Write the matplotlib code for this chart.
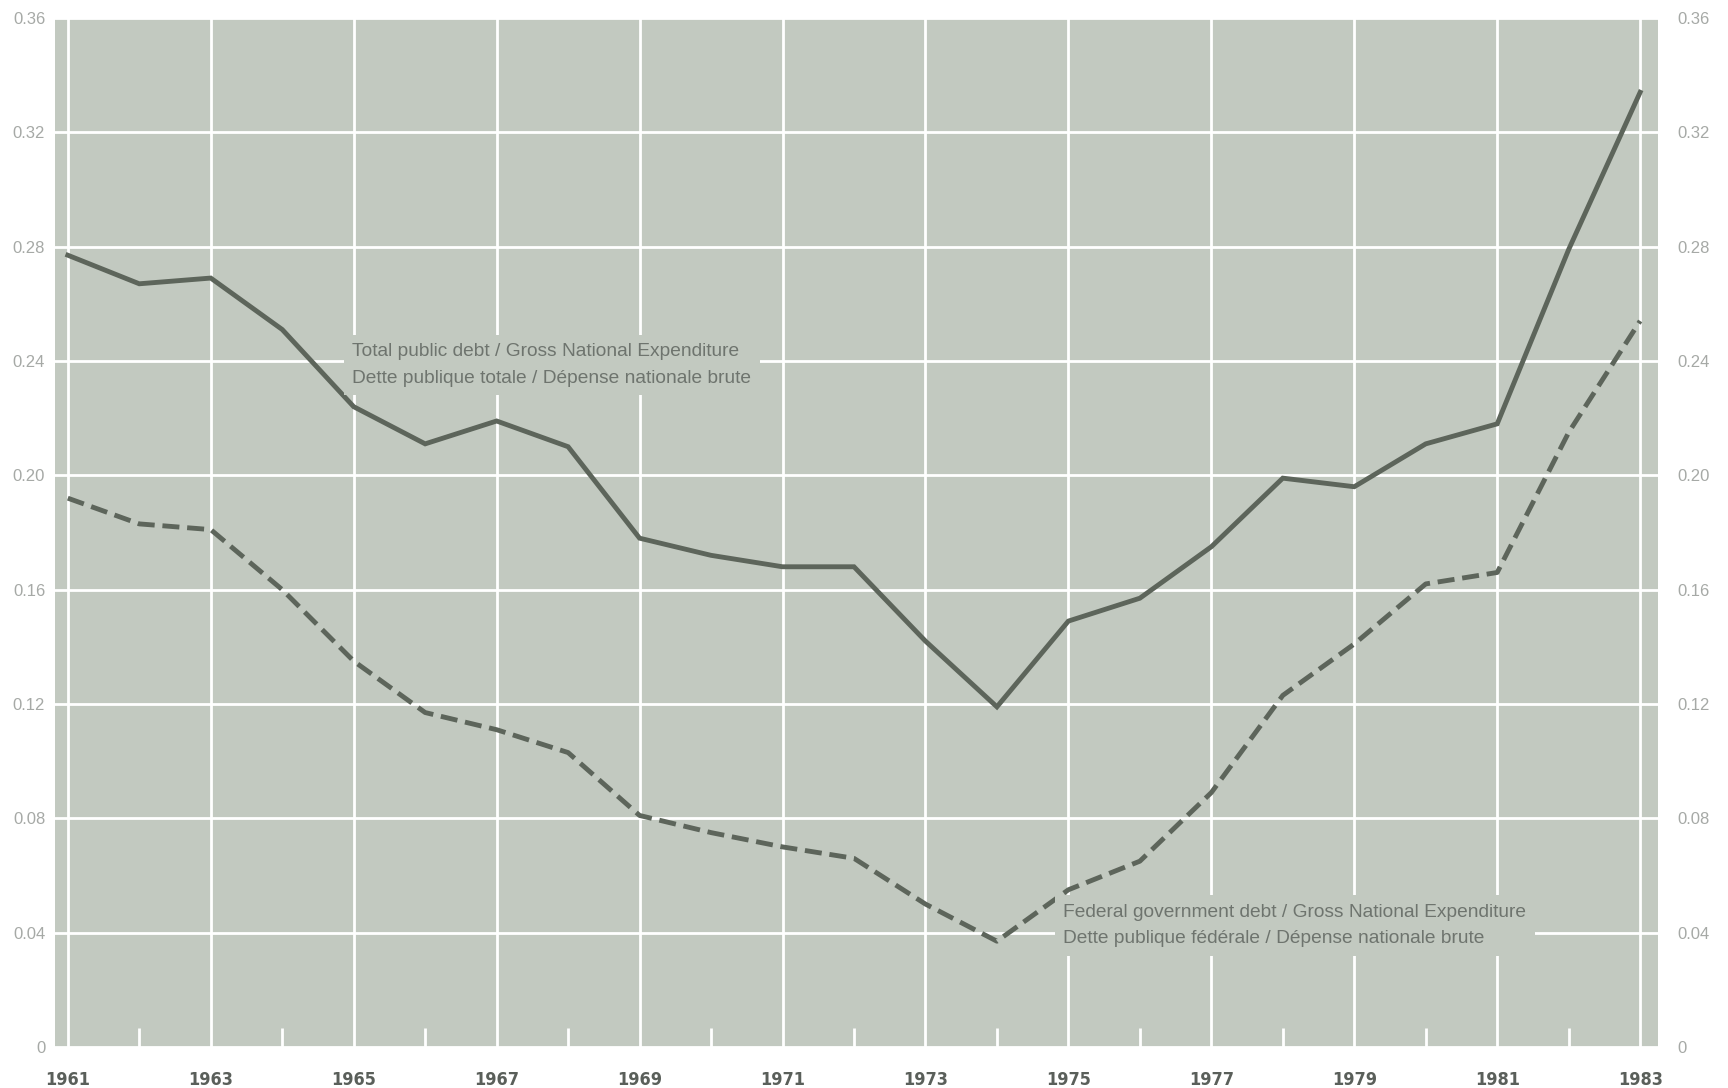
import matplotlib.pyplot as plt
import numpy as np

# data
years = np.arange(1961, 1984)
total_debt = [0.277, 0.267, 0.269, 0.251, 0.224, 0.211, 0.219, 0.210, 0.178, 0.172,
              0.168, 0.168, 0.142, 0.119, 0.149, 0.157, 0.175, 0.199, 0.196, 0.211,
              0.218, 0.279, 0.334]
federal_debt = [0.192, 0.183, 0.181, 0.160, 0.135, 0.117, 0.111, 0.103, 0.081, 0.075,
                0.070, 0.066, 0.050, 0.037, 0.055, 0.065, 0.089, 0.123, 0.141, 0.162,
                0.166, 0.215, 0.254]
ytick_vals = [0, 0.04, 0.08, 0.12, 0.16, 0.20, 0.24, 0.28, 0.32, 0.36]
ytick_labels = ["0", "0.04", "0.08", "0.12", "0.16", "0.20", "0.24", "0.28", "0.32", "0.36"]
label_total = "Total public debt / Gross National Expenditure\nDette publique totale / Dépense nationale brute"
label_federal = "Federal government debt / Gross National Expenditure\nDette publique fédérale / Dépense nationale brute"

bg = "#c2c9c0"
ink = "#5d655b"

fig = plt.figure(figsize=(17.28, 10.88), dpi=100)
ax = fig.add_axes([0.0318, 0.0377, 0.9277, 0.9458])
ax.set_facecolor(bg)
for s in ax.spines.values():
    s.set_visible(False)

ax.set_xlim(1960.82, 1983.25)
ax.set_ylim(0, 0.36)

# grid: odd years full lines, even years short ticks at the bottom
ax.set_xticks(years[::2])
ax.set_xticks(years[1::2], minor=True)
ax.set_yticks(ytick_vals)
ax.grid(True, which="major", color="white", linewidth=2.0)
ax.tick_params(axis="x", which="major", length=0, pad=17)
ax.tick_params(axis="x", which="minor", direction="in", length=14, width=2.0, color="white")
ax.tick_params(axis="y", length=0, pad=7)
ax.set_xticklabels([str(y) for y in years[::2]], fontsize=13, fontweight="bold",
                   color="#5a5f5a", family="DejaVu Sans", fontstretch="condensed")
ax.set_yticklabels(ytick_labels, fontsize=12, color="#a6a9a6", family="Liberation Sans")
ax.set_axisbelow(True)

ax2 = ax.twinx()
ax2.set_ylim(0, 0.36)
ax2.set_yticks(ytick_vals)
ax2.set_yticklabels(ytick_labels, fontsize=12, color="#a6a9a6", family="Liberation Sans")
ax2.tick_params(axis="y", length=0, pad=14)
for s in ax2.spines.values():
    s.set_visible(False)

ax.plot(years, total_debt, color=ink, linewidth=3.5, solid_joinstyle="miter", zorder=3)
ax.plot(years, federal_debt, color=ink, linewidth=3.5, dashes=(3.5, 1.6), zorder=3)

box = dict(facecolor=bg, edgecolor="none", pad=6)
ax.text(1964.98, 0.2385, label_total, fontsize=13.8, color="#6e746e", va="center",
        ha="left", linespacing=1.75, family="Liberation Sans", bbox=box, zorder=4)
ax.text(1974.93, 0.0425, label_federal, fontsize=13.8, color="#6e746e", va="center",
        ha="left", linespacing=1.75, family="Liberation Sans", bbox=box, zorder=4)

fig.savefig("out.png", dpi=100, facecolor="white")
